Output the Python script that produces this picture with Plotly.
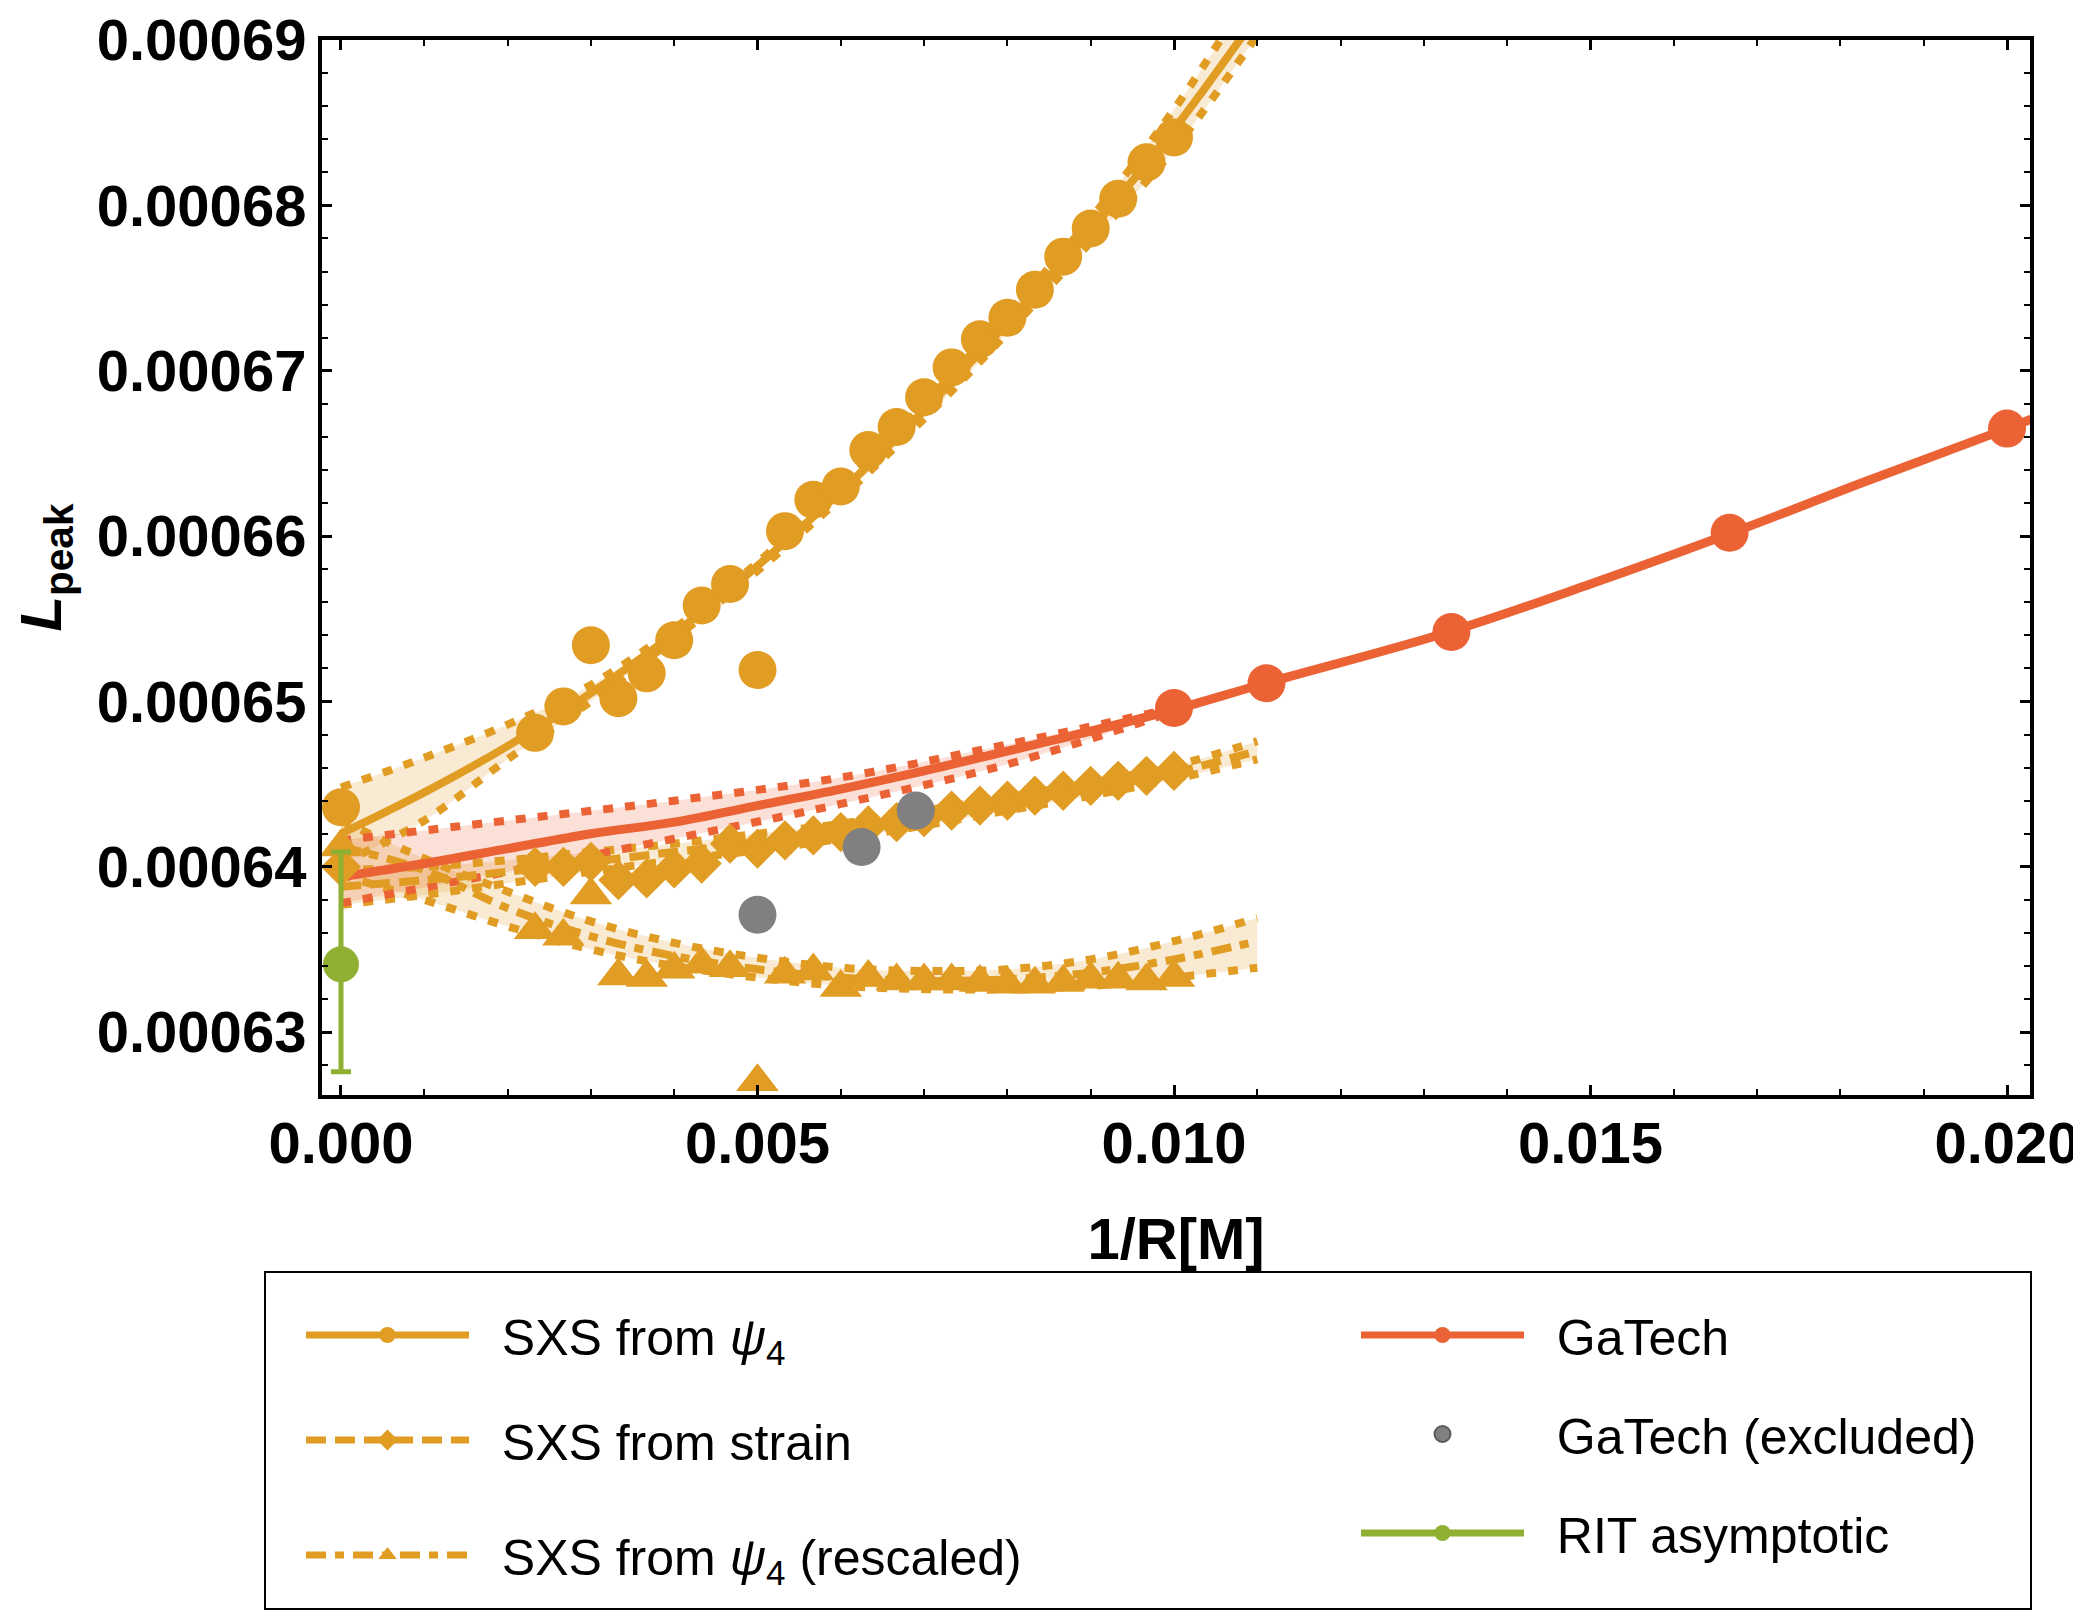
import plotly.graph_objects as go

ORANGE = '#E19C24'
RED = '#EB6235'
GREEN = '#8FB032'
GRAY = '#808080'
ORANGE_FILL = 'rgba(225,156,36,0.20)'
RED_FILL = 'rgba(235,98,53,0.20)'
FONT = 'Liberation Sans'

# ---------------- data points ----------------
psi4_x = [0.0, 0.00233, 0.00267, 0.003, 0.00333, 0.00367, 0.004, 0.00433, 0.00467, 0.005,
          0.00533, 0.00567, 0.006, 0.00633, 0.00667, 0.007, 0.00733, 0.00767, 0.008,
          0.00833, 0.00867, 0.009, 0.00933, 0.00967, 0.01]
psi4_y = [0.0006436, 0.0006481, 0.0006497, 0.0006534, 0.0006502, 0.0006517, 0.0006537,
          0.0006558, 0.0006571, 0.0006519, 0.0006603, 0.0006622, 0.0006630, 0.0006652,
          0.0006666, 0.0006684, 0.0006702, 0.0006719, 0.0006732, 0.0006749, 0.0006769,
          0.0006786, 0.0006804, 0.0006826, 0.0006841]

strain_x = [0.0, 0.00233, 0.00267, 0.003, 0.00333, 0.00367, 0.004, 0.00433, 0.00467, 0.005,
            0.00533, 0.00567, 0.006, 0.00633, 0.00667, 0.007, 0.00733, 0.00767, 0.008,
            0.00833, 0.00867, 0.009, 0.00933, 0.00967, 0.01]
strain_y = [0.0006400, 0.0006400, 0.0006400, 0.0006403, 0.0006392, 0.0006393, 0.0006399,
            0.0006402, 0.0006414, 0.0006411, 0.0006416, 0.0006419, 0.0006421, 0.0006425,
            0.0006427, 0.0006430, 0.0006434, 0.0006437, 0.0006440, 0.0006443, 0.0006446,
            0.0006449, 0.0006452, 0.0006455, 0.0006458]

resc_x = [0.0, 0.00233, 0.00267, 0.003, 0.00333, 0.00367, 0.004, 0.00433, 0.00467, 0.005,
          0.00533, 0.00567, 0.006, 0.00633, 0.00667, 0.007, 0.00733, 0.00767, 0.008,
          0.00833, 0.00867, 0.009, 0.00933, 0.00967, 0.01]
resc_y = [0.0006412, 0.0006362, 0.0006358, 0.0006383, 0.0006334, 0.0006333, 0.0006338,
          0.0006341, 0.0006339, 0.0006270, 0.0006335, 0.0006337, 0.0006327, 0.0006333,
          0.0006331, 0.0006331, 0.0006331, 0.0006330, 0.0006329, 0.0006329, 0.0006330,
          0.0006332, 0.0006332, 0.0006331, 0.0006333]

gatech_x = [0.01, 0.01111, 0.01333, 0.01667, 0.02]
gatech_y = [0.0006496, 0.0006511, 0.0006542, 0.0006602, 0.0006665]

gatech_ex_x = [0.005, 0.00625, 0.0069]
gatech_ex_y = [0.0006371, 0.0006412, 0.0006434]

rit_x = [0.0]
rit_y = [0.0006341]
rit_err_plus = [0.0000068]
rit_err_minus = [0.0000065]

# ---------------- fitted curves and bands ----------------
fit_x = [0.0, 0.001, 0.002, 0.003, 0.004, 0.005, 0.006, 0.007, 0.008, 0.009, 0.010, 0.011]
psi4_fit = [0.0006420, 0.0006445, 0.0006473, 0.0006505, 0.0006541, 0.0006582, 0.0006627,
            0.0006676, 0.0006729, 0.0006785, 0.0006846, 0.0006915]
psi4_hi = [0.0006448, 0.0006466, 0.0006486, 0.0006510, 0.0006544, 0.0006584, 0.0006630,
           0.0006680, 0.0006734, 0.0006792, 0.0006858, 0.0006935]
psi4_lo = [0.0006402, 0.0006428, 0.0006465, 0.0006500, 0.0006538, 0.0006579, 0.0006623,
           0.0006671, 0.0006723, 0.0006778, 0.0006834, 0.0006903]

strain_fit = [0.0006388, 0.0006392, 0.0006397, 0.0006403, 0.0006409, 0.0006415, 0.0006422,
              0.0006430, 0.0006438, 0.0006447, 0.0006457, 0.0006470]
strain_hi = [0.0006398, 0.0006400, 0.0006404, 0.0006409, 0.0006414, 0.0006420, 0.0006426,
             0.0006434, 0.0006442, 0.0006451, 0.0006461, 0.0006476]
strain_lo = [0.0006377, 0.0006383, 0.0006390, 0.0006397, 0.0006404, 0.0006410, 0.0006417,
             0.0006425, 0.0006434, 0.0006443, 0.0006453, 0.0006465]

resc_fit = [0.0006412, 0.0006398, 0.0006375, 0.0006358, 0.0006346, 0.0006338, 0.0006333,
            0.0006331, 0.0006332, 0.0006336, 0.0006344, 0.0006355]
resc_hi = [0.0006428, 0.0006405, 0.0006385, 0.0006367, 0.0006354, 0.0006345, 0.0006339,
           0.0006337, 0.0006338, 0.0006344, 0.0006355, 0.0006369]
resc_lo = [0.0006395, 0.0006380, 0.0006364, 0.0006350, 0.0006340, 0.0006333, 0.0006328,
           0.0006326, 0.0006326, 0.0006328, 0.0006333, 0.0006339]

gt_fit_x = [0.0, 0.001, 0.002, 0.003, 0.004, 0.005, 0.006, 0.007, 0.008, 0.009, 0.010,
            0.0111, 0.0133, 0.015, 0.0167, 0.0183, 0.020, 0.0205]
gt_fit = [0.0006394, 0.0006402, 0.0006411, 0.0006420, 0.0006427, 0.0006437, 0.0006447,
          0.0006458, 0.0006470, 0.0006482, 0.0006495, 0.0006511, 0.0006542, 0.0006571,
          0.0006602, 0.0006633, 0.0006665, 0.0006675]
gt_band_x = [0.0, 0.002, 0.004, 0.006, 0.008, 0.010]
gt_hi = [0.0006416, 0.0006428, 0.0006440, 0.0006454, 0.0006474, 0.0006496]
gt_lo = [0.0006378, 0.0006397, 0.0006417, 0.0006438, 0.0006462, 0.0006494]

x_tick_vals = [0.0, 0.005, 0.010, 0.015, 0.020]
x_tick_text = ['0.000', '0.005', '0.010', '0.015', '0.020']
y_tick_vals = [0.00063, 0.00064, 0.00065, 0.00066, 0.00067, 0.00068, 0.00069]
y_tick_text = ['0.00063', '0.00064', '0.00065', '0.00066', '0.00067', '0.00068', '0.00069']

# ---------------- figure ----------------
fig = go.Figure()

DOT = '10px,12px'
DASH = '20px,9px'
DOTDASH = '20px,9px,9px,9px'


def band(x, lo, hi, fillcolor):
    fig.add_trace(go.Scatter(x=x, y=lo, mode='lines', line=dict(width=0, shape='spline'),
                             showlegend=False, hoverinfo='skip'))
    fig.add_trace(go.Scatter(x=x, y=hi, mode='lines', line=dict(width=0, shape='spline'),
                             fill='tonexty', fillcolor=fillcolor, showlegend=False,
                             hoverinfo='skip'))


def curve(x, y, color, width, dash):
    fig.add_trace(go.Scatter(x=x, y=y, mode='lines',
                             line=dict(color=color, width=width, dash=dash, shape='spline'),
                             showlegend=False, hoverinfo='skip'))


# bands
band(fit_x, psi4_lo, psi4_hi, ORANGE_FILL)
band(fit_x, strain_lo, strain_hi, ORANGE_FILL)
band(fit_x, resc_lo, resc_hi, ORANGE_FILL)
band(gt_band_x, gt_lo, gt_hi, RED_FILL)

# band boundaries (dotted)
for arr in (psi4_hi, psi4_lo, strain_hi, strain_lo, resc_hi, resc_lo):
    curve(fit_x, arr, ORANGE, 8, DOT)
curve(gt_band_x, gt_hi, RED, 8, DOT)
curve(gt_band_x, gt_lo, RED, 8, DOT)

# fits
curve(fit_x, psi4_fit, ORANGE, 8, 'solid')
curve(fit_x, strain_fit, ORANGE, 8, DASH)
curve(fit_x, resc_fit, ORANGE, 8, DOTDASH)
curve(gt_fit_x, gt_fit, RED, 9, 'solid')

# markers
fig.add_trace(go.Scatter(x=psi4_x, y=psi4_y, mode='markers',
                         marker=dict(symbol='circle', size=38, color=ORANGE, line=dict(width=0)),
                         showlegend=False))
fig.add_trace(go.Scatter(x=strain_x, y=strain_y, mode='markers',
                         marker=dict(symbol='diamond', size=31, color=ORANGE, line=dict(width=0)),
                         showlegend=False))
fig.add_trace(go.Scatter(x=resc_x, y=resc_y, mode='markers',
                         marker=dict(symbol='triangle-up', size=37, color=ORANGE, line=dict(width=0)),
                         showlegend=False))
fig.add_trace(go.Scatter(x=gatech_x, y=gatech_y, mode='markers',
                         marker=dict(symbol='circle', size=38, color=RED, line=dict(width=0)),
                         showlegend=False))
fig.add_trace(go.Scatter(x=gatech_ex_x, y=gatech_ex_y, mode='markers',
                         marker=dict(symbol='circle', size=38, color=GRAY, line=dict(width=0)),
                         showlegend=False))
fig.add_trace(go.Scatter(x=rit_x, y=rit_y, mode='markers',
                         marker=dict(symbol='circle', size=36, color=GREEN, line=dict(width=0)),
                         error_y=dict(type='data', symmetric=False, array=rit_err_plus,
                                      arrayminus=rit_err_minus, color=GREEN, thickness=5,
                                      width=10),
                         showlegend=False))

# legend entries (one legend per entry so each sits where the reference has it)
GAP = '\u00a0\u00a0'
legend_items = [
    (GAP + 'SXS from <i>ψ</i><sub>4</sub>', ORANGE, 'solid', 'circle', 'legend'),
    (GAP + 'SXS from strain', ORANGE, DASH, 'diamond', 'legend2'),
    (GAP + 'SXS from <i>ψ</i><sub>4</sub> (rescaled)', ORANGE, DOTDASH, 'triangle-up', 'legend3'),
    (GAP + 'GaTech', RED, 'solid', 'circle', 'legend4'),
    (GAP + 'GaTech (excluded)', GRAY, None, 'circle', 'legend5'),
    (GAP + 'RIT asymptotic', GREEN, 'solid', 'circle', 'legend6'),
]
for name, color, dash, symbol, lg in legend_items:
    if dash is None:
        fig.add_trace(go.Scatter(x=[None], y=[None], mode='markers', name=name,
                                 marker=dict(symbol=symbol, size=16, color=color,
                                             line=dict(width=2, color='#5a5a5a')),
                                 legend=lg, showlegend=True))
    else:
        fig.add_trace(go.Scatter(x=[None], y=[None], mode='lines+markers', name=name,
                                 line=dict(color=color, width=7, dash=dash),
                                 marker=dict(symbol=symbol, size=16, color=color),
                                 legend=lg, showlegend=True))

FIG_W, FIG_H = 2073, 1609
PLOT_L, PLOT_R, PLOT_T, PLOT_B = 314, 2022, 32, 1087
PW, PH = PLOT_R - PLOT_L, PLOT_B - PLOT_T


def px2paper_x(px):
    return (px - PLOT_L) / PW


def px2paper_y(py):
    return (PLOT_B - py) / PH


ITEMW = 163
legend_pos = {
    'legend': (293, 1327),
    'legend2': (293, 1432),
    'legend3': (293, 1547),
    'legend4': (1348, 1327),
    'legend5': (1348, 1426),
    'legend6': (1348, 1525),
}
legend_layout = {}
for lg, (lx, ly) in legend_pos.items():
    legend_layout[lg] = dict(
        x=px2paper_x(lx), y=px2paper_y(ly), xanchor='left', yanchor='middle',
        orientation='v', itemwidth=ITEMW, bgcolor='rgba(0,0,0,0)', borderwidth=0,
        font=dict(family=FONT, size=50, color='black'), itemclick=False,
    )

tickfont = dict(family=FONT, size=58, color='black', weight='bold')

fig.update_layout(
    width=FIG_W, height=FIG_H,
    margin=dict(l=PLOT_L, r=FIG_W - PLOT_R, t=PLOT_T, b=FIG_H - PLOT_B),
    paper_bgcolor='white', plot_bgcolor='white',
    showlegend=True,
    **legend_layout,
    xaxis=dict(
        range=[-0.000228, 0.020276], tickvals=x_tick_vals, ticktext=x_tick_text,
        showline=True, linecolor='black', linewidth=4, mirror='allticks',
        ticks='inside', ticklen=10, tickwidth=3, tickcolor='black',
        minor=dict(dtick=0.001, tick0=0, ticks='inside', ticklen=6, tickwidth=2, tickcolor='black'),
        showgrid=False, zeroline=False, tickfont=tickfont, automargin=False,
        ticklabelstandoff=-6, ticklabeloverflow='allow',
        title=dict(text='<b>1/R[M]</b>', font=dict(family=FONT, size=58, color='black'), standoff=46),
    ),
    yaxis=dict(
        range=[0.0006262, 0.0006900005], tickvals=y_tick_vals, ticktext=y_tick_text,
        showline=True, linecolor='black', linewidth=4, mirror='allticks',
        ticks='inside', ticklen=10, tickwidth=3, tickcolor='black',
        minor=dict(dtick=0.000002, tick0=0.00063, ticks='inside', ticklen=6, tickwidth=2, tickcolor='black'),
        showgrid=False, zeroline=False, tickfont=tickfont, automargin=False,
        ticklabeloverflow='allow',
        title=dict(text='<b><i>L</i><sub>peak</sub></b>', font=dict(family=FONT, size=58, color='black'), standoff=20),
    ),
    shapes=[dict(type='rect', xref='paper', yref='paper',
                 x0=px2paper_x(257), x1=px2paper_x(2023), y0=px2paper_y(1601), y1=px2paper_y(1264),
                 line=dict(color='black', width=2), fillcolor='rgba(0,0,0,0)', layer='above')],
)

fig.write_html('out.html')
